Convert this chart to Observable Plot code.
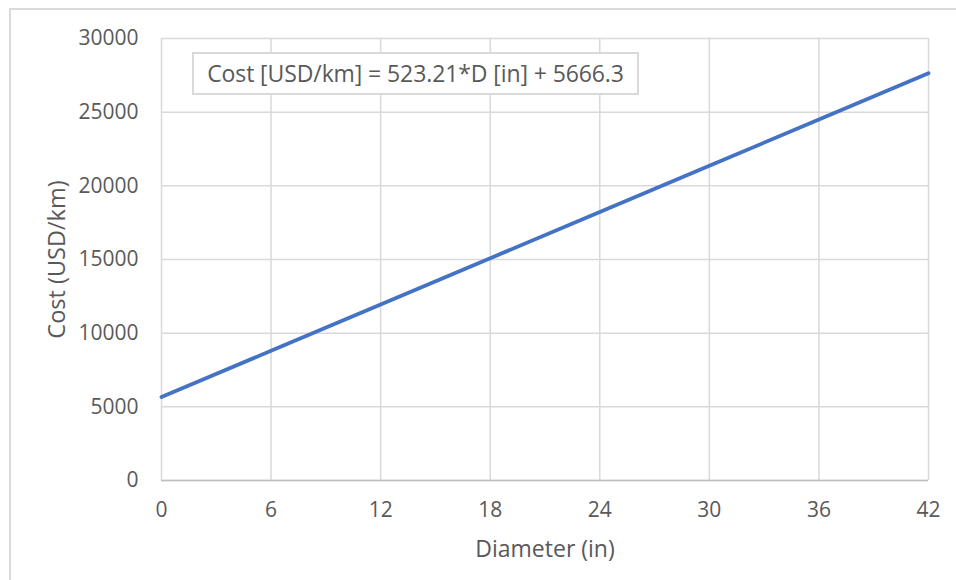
<!DOCTYPE html>
<html><head><meta charset="utf-8">
<script src="https://cdn.jsdelivr.net/npm/d3@7"></script>
<script src="https://cdn.jsdelivr.net/npm/@observablehq/plot@0.6"></script>
<style>
body{margin:0;background:#fff;font-family:"Open Sans",sans-serif;}
#wrap{position:relative;width:956px;height:580px;overflow:hidden;}
#border{position:absolute;left:9px;top:8px;width:1000px;height:1000px;border:2px solid #d9d9d9;box-sizing:border-box;}
#chart{position:absolute;left:0;top:0;}
#eq{position:absolute;left:192px;top:52px;width:447px;height:43px;box-sizing:border-box;border:2px solid #d9d9d9;background:#fff;color:#595959;font-size:23px;line-height:38px;text-align:center;white-space:nowrap;letter-spacing:-0.1px;}
</style></head>
<body>
<div id="wrap"><div id="border"></div><div id="chart"></div><div id="eq"></div></div>
<script>
const diameters = [0, 6, 12, 18, 24, 30, 36, 42];
const costs = [5666, 8806, 11945, 15084, 18223, 21363, 24502, 27641];
const xTicks = [0, 6, 12, 18, 24, 30, 36, 42];
const yTicks = [0, 5000, 10000, 15000, 20000, 25000, 30000];
const equationLabel = "Cost [USD/km] = 523.21*D [in] + 5666.3";
const xLabel = "Diameter (in)";
const yLabel = "Cost (USD/km)";

const data = diameters.map((d, i) => ({d, c: costs[i]}));

const chart = Plot.plot({
  width: 956, height: 580,
  marginLeft: 161, marginRight: 28, marginTop: 38, marginBottom: 100,
  x: {domain: [0, 42]},
  y: {domain: [0, 30000]},
  style: {fontFamily: "'Open Sans', sans-serif", fontSize: "21px", color: "#595959", background: "transparent"},
  marks: [
    Plot.gridX(xTicks, {stroke: "#d9d9d9", strokeOpacity: 1, strokeWidth: 1.5}),
    Plot.gridY(yTicks, {stroke: "#d9d9d9", strokeOpacity: 1, strokeWidth: 1.5}),
    Plot.ruleY([0], {stroke: "#bfbfbf", strokeWidth: 1.5}),
    Plot.axisX({ticks: xTicks, tickSize: 0, tickPadding: 22, label: null, tickFormat: d => String(d), fill: "#595959", fontSize: 21}),
    Plot.axisY({ticks: yTicks, tickSize: 0, tickPadding: 23, label: null, tickFormat: d => String(d), fill: "#595959", fontSize: 21}),
    Plot.line(data, {x: "d", y: "c", stroke: "#4472C4", strokeWidth: 3.8}),
    Plot.text([xLabel], {frameAnchor: "bottom", dy: 69, lineAnchor: "middle", textAnchor: "middle", text: d => d, fill: "#595959", fontSize: 23}),
    Plot.text([yLabel], {frameAnchor: "left", dx: -104, rotate: -90, lineAnchor: "middle", textAnchor: "middle", text: d => d, fill: "#595959", fontSize: 23.5})
  ]
});
document.getElementById("chart").appendChild(chart);
document.getElementById("eq").textContent = equationLabel;
</script>
</body></html>
